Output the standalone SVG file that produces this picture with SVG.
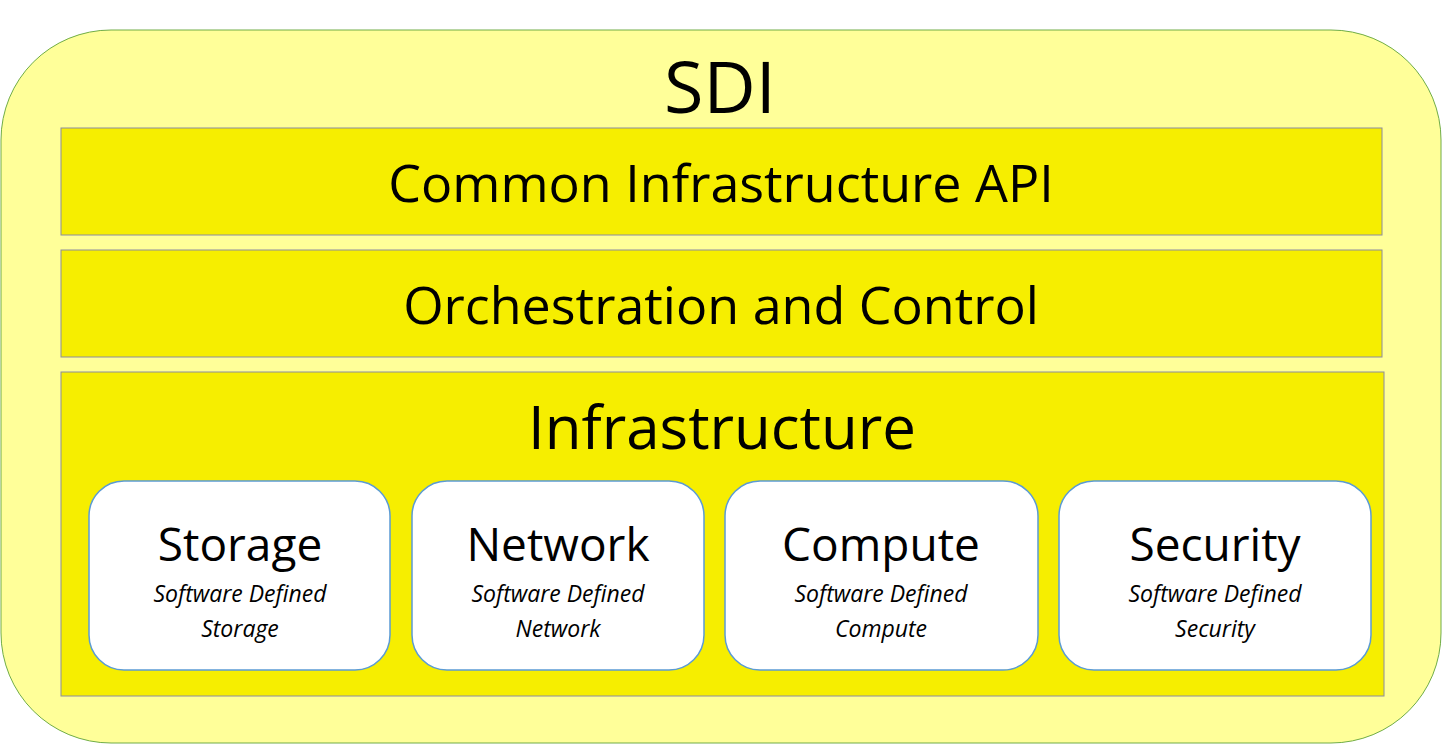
<svg xmlns="http://www.w3.org/2000/svg" width="1443" height="744" viewBox="0 0 1443 744">
<style>
text{font-family:"Open Sans","Noto Sans",sans-serif;fill:#000;text-anchor:middle}
.bar{fill:#F6EE00;stroke:#8C8CA0;stroke-width:1}
.card{fill:#fff;stroke:#5B9BD5;stroke-width:1.5}
.t1{font-size:52px}
.t2{font-size:46px}
.s{font-size:23px;font-style:italic}
</style>
<rect width="1443" height="744" fill="#fff"/>
<g id="sdi"><rect x="1" y="30" width="1440" height="713" rx="110" fill="#FFFF99" stroke="#70AD47"/><text x="720" y="113" font-size="72">SDI</text></g>
<g id="api"><rect class="bar" x="61" y="128" width="1321" height="107"/><text class="t1" x="721" y="202">Common Infrastructure API</text></g>
<g id="orch"><rect class="bar" x="61" y="250" width="1321" height="107"/><text class="t1" x="721" y="324">Orchestration and Control</text></g>
<g id="infra"><rect class="bar" x="61" y="372" width="1323" height="324"/><text x="722" y="449" font-size="60">Infrastructure</text></g>
<g id="storage"><rect class="card" x="89" y="481" width="301" height="189" rx="35"/><text class="t2" x="240" y="561">Storage</text><text class="s" x="240" y="602">Software Defined</text><text class="s" x="240" y="637">Storage</text></g>
<g id="network"><rect class="card" x="412" y="481" width="292" height="189" rx="35"/><text class="t2" x="558" y="561">Network</text><text class="s" x="558" y="602">Software Defined</text><text class="s" x="558" y="637">Network</text></g>
<g id="compute"><rect class="card" x="725" y="481" width="313" height="189" rx="35"/><text class="t2" x="881" y="561">Compute</text><text class="s" x="881" y="602">Software Defined</text><text class="s" x="881" y="637">Compute</text></g>
<g id="security"><rect class="card" x="1059" y="481" width="312" height="189" rx="35"/><text class="t2" x="1215" y="561">Security</text><text class="s" x="1215" y="602">Software Defined</text><text class="s" x="1215" y="637">Security</text></g>
<g id="connectors"/>
</svg>
